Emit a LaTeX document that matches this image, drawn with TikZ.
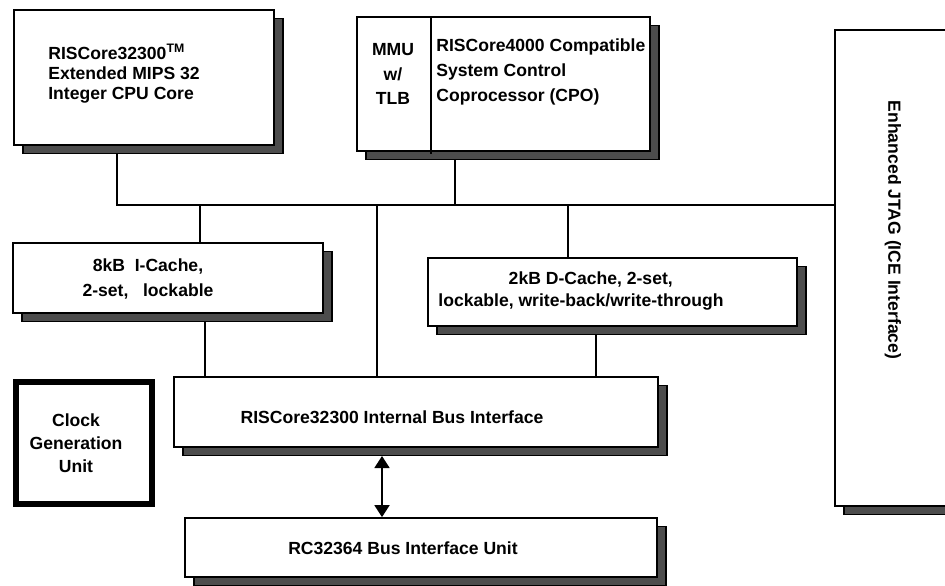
\documentclass[tikz,border=0pt]{standalone}
\usepackage{fontspec}
\setmainfont{Liberation Sans}
\usetikzlibrary{arrows.meta, shadows, backgrounds, positioning}
\definecolor{shadowgray}{HTML}{4D4D4D}

\tikzset{
  block/.style={rectangle, draw=black, line width=1pt, fill=white, inner sep=0pt,
    general shadow={fill=shadowgray, draw=black, line width=0.8pt, shadow xshift=0.18cm, shadow yshift=-0.17cm}},
  blocktext/.style={font=\bfseries\fontsize{10}{12}\selectfont, inner sep=0pt},
  wire/.style={line width=1pt},
}

\begin{document}
\begin{tikzpicture}[x=0.02cm, y=-0.02cm]
  \useasboundingbox (0,0) rectangle (945,585);

  % ===== Top row: CPU core and CP0 =====
  \node[block, minimum width=5.2cm, minimum height=2.7cm] (cpu) at (144,77.5) {};
  \node[blocktext, font=\bfseries\fontsize{10}{11.5}\selectfont, align=left, anchor=west] (cputxt) at (48,74)
    {RISCore32300\textsuperscript{TM}\\Extended MIPS 32\\Integer CPU Core};

  \node[block, minimum width=5.86cm, minimum height=2.68cm] (cp0) at (503.5,84) {};
  \draw[wire] ([xshift=1.5cm]cp0.north west) -- ([xshift=1.5cm, yshift=-0.04cm]cp0.south west);
  \node[blocktext, font=\bfseries\fontsize{10}{14}\selectfont, align=center] (mmutxt) at (393,74)
    {MMU\\w/\\TLB};
  \node[blocktext, font=\bfseries\fontsize{10}{14}\selectfont, align=left, anchor=west] (cp0txt) at (436,72)
    {RISCore4000 Compatible\\System Control\\Coprocessor (CPO)};

  % ===== JTAG on the right =====
  \node[block, minimum width=2.8cm, minimum height=9.52cm] (jtag) at (905,268) {};
  \node[blocktext, rotate=-90] (jtagtxt) at (893,230) {Enhanced JTAG (ICE Interface)};

  % ===== Caches =====
  \node[block, minimum width=6.2cm, minimum height=1.4cm] (icache) at (168,278) {};
  \node[blocktext, font=\bfseries\fontsize{10}{14}\selectfont, align=center] (icachetxt) at (148,279)
    {8kB\ \ I-Cache,\\2-set,\ \ \ lockable};

  \node[block, minimum width=7.38cm, minimum height=1.36cm] (dcache) at (612.5,292) {};
  \node[blocktext, font=\bfseries\fontsize{10}{12.5}\selectfont, align=center] (dcachetxt) at (581,291)
    {\ \ \ \ 2kB D-Cache, 2-set,\\lockable, write-back/write-through};

  % ===== Bus interfaces =====
  \node[block, minimum width=9.68cm, minimum height=1.4cm] (ibus) at (416,412) {};
  \node[blocktext] (ibustxt) at (392,417) {RISCore32300 Internal Bus Interface};

  \node[block, minimum width=9.44cm, minimum height=1.18cm] (biu) at (421,547.5) {};
  \node[blocktext] (biutxt) at (403,548) {RC32364 Bus Interface Unit};

  % Clock generation (thick border, no shadow)
  \node[draw=black, line width=3.5pt, fill=white, minimum width=2.72cm, minimum height=2.44cm] (clock) at (84,443) {};
  \node[blocktext, font=\bfseries\fontsize{10}{13}\selectfont, align=center] (clocktxt) at (76,443)
    {Clock\\Generation\\Unit};

  % ===== Connectors =====
  \coordinate (busL) at (117,205);
  \coordinate (tapI) at (200,205);
  \coordinate (tapC) at (377,205);
  \coordinate (tapM) at (455,205);
  \coordinate (tapD) at (568,205);
  \coordinate (dropI) at (205,330);
  \coordinate (dropD) at (596,330);
  \coordinate (arr) at (382,456);

  \begin{scope}[on background layer]
    \draw[wire] (busL |- cpu.south) -- (busL) -- (jtag.west |- busL);
    \draw[wire] (tapM |- cp0.south) -- (tapM);
    \draw[wire] (tapI) -- (tapI |- icache.north);
    \draw[wire] (tapC) -- (tapC |- ibus.north);
    \draw[wire] (tapD) -- (tapD |- dcache.north);
    \draw[wire] (dropI |- icache.south) -- (dropI |- ibus.north);
    \draw[wire] (dropD |- dcache.south) -- (dropD |- ibus.north);
  \end{scope}
  \draw[wire, {Triangle[length=0.24cm, width=0.3cm]}-{Triangle[length=0.24cm, width=0.3cm]}] (arr) -- (arr |- biu.north);
\end{tikzpicture}
\end{document}
